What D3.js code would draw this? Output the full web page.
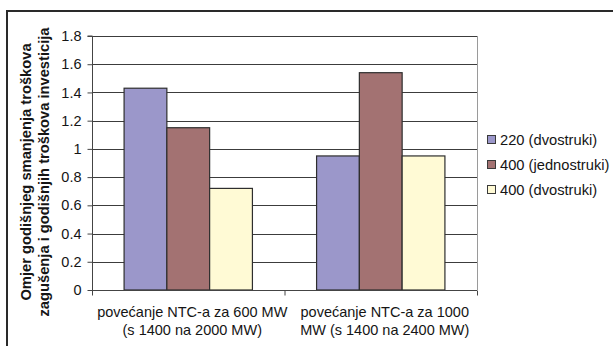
<!DOCTYPE html>
<html>
<head>
<meta charset="utf-8">
<script src="https://cdn.jsdelivr.net/npm/d3@7"></script>
<style>
  html, body { margin: 0; padding: 0; background: #fff; }
  svg { display: block; font-family: "Liberation Sans", Arial, sans-serif; }
</style>
</head>
<body>
<svg id="chart" width="613" height="346"></svg>
<script>
// Ratio of annual congestion-cost reduction to annual investment cost
const categories = [
  ["povećanje NTC-a za 600 MW", "(s 1400 na 2000 MW)"],
  ["povećanje NTC-a za 1000", "MW (s 1400 na 2400 MW)"]
];
const seriesNames = ["220 (dvostruki)", "400 (jednostruki)", "400 (dvostruki)"];
const series220Double = [1.43, 0.95];
const series400Single = [1.15, 1.54];
const series400Double = [0.72, 0.95];
const seriesColors = ["#9b97ca", "#a37272", "#fffad5"];
const yTicks = [0, 0.2, 0.4, 0.6, 0.8, 1, 1.2, 1.4, 1.6, 1.8];
const yTitle = ["Omjer godišnjeg smanjenja troškova", "zagušenja i godišnjih troškova investicija"];

const allSeries = [series220Double, series400Single, series400Double];

const svg = d3.select("#chart");
const plot = { left: 92, right: 477, top: 36, bottom: 290 };
const textColor = "#151515";

// outer frame (top and left edges)
svg.append("path")
  .attr("d", `M7,346 V11 H613`)
  .attr("fill", "none")
  .attr("stroke", "#2a2a2a")
  .attr("stroke-width", 2);

const y = d3.scaleLinear().domain([0, 1.8]).range([plot.bottom, plot.top]);
const x0 = d3.scaleBand().domain(d3.range(categories.length))
  .range([plot.left, plot.right]).paddingInner(0).paddingOuter(0);
// gap width 150%: each band holds 3 bars plus 1.5 bar widths of gap
const barW = x0.bandwidth() / 4.5;

// gridlines
svg.append("g")
  .selectAll("line")
  .data(yTicks.filter(d => d > 0))
  .join("line")
  .attr("x1", plot.left).attr("x2", plot.right)
  .attr("y1", d => Math.round(y(d)) + 0.5).attr("y2", d => Math.round(y(d)) + 0.5)
  .attr("stroke", "#3c3c3c").attr("stroke-width", 1);

// right edge of plot area
svg.append("line")
  .attr("x1", plot.right + 0.5).attr("x2", plot.right + 0.5)
  .attr("y1", plot.top).attr("y2", plot.bottom)
  .attr("stroke", "#9a9a9a");

// bars
const groups = svg.append("g").selectAll("g")
  .data(categories.map((c, i) => i))
  .join("g");

groups.selectAll("rect")
  .data(i => allSeries.map((s, k) => ({ i, k, v: s[i] })))
  .join("rect")
  .attr("x", d => x0(d.i) + barW * 0.75 + d.k * barW)
  .attr("width", barW)
  .attr("y", d => y(d.v))
  .attr("height", d => y(0) - y(d.v))
  .attr("fill", d => seriesColors[d.k])
  .attr("stroke", "#2e2e2e")
  .attr("stroke-width", 1.2);

// y axis
const yAxis = d3.axisLeft(y).tickValues(yTicks).tickSize(5).tickPadding(6)
  .tickFormat(d => d3.format("")(+d.toFixed(1)));
const gy = svg.append("g").attr("transform", `translate(${plot.left + 0.5},0)`).call(yAxis);
gy.select(".domain").attr("stroke", "#444").attr("d", `M-5,${plot.top}H0V${plot.bottom}`);
gy.selectAll(".tick line").attr("stroke", "#444");
gy.selectAll(".tick text").attr("font-size", 14.5).attr("fill", textColor)
  .attr("font-family", "'Liberation Sans', Arial, sans-serif");

// x axis
const xAxis = d3.axisBottom(d3.scaleLinear().domain([0, categories.length]).range([plot.left, plot.right]))
  .tickValues(d3.range(categories.length + 1)).tickSize(5).tickFormat("");
const gx = svg.append("g").attr("transform", `translate(0,${plot.bottom + 0.5})`).call(xAxis);
gx.select(".domain").attr("stroke", "#444").attr("d", `M${plot.left},0H${plot.right}`);
gx.selectAll(".tick line").attr("stroke", "#444");

// category labels
const catLabels = svg.append("g").selectAll("text")
  .data(categories.map((c, i) => ({ c, i })))
  .join("text")
  .attr("text-anchor", "middle")
  .attr("font-size", 14.5)
  .attr("fill", textColor)
  .attr("transform", d => `translate(${x0(d.i) + x0.bandwidth() / 2 + 4},0)`);
catLabels.selectAll("tspan")
  .data(d => d.c)
  .join("tspan")
  .attr("x", 0)
  .attr("y", (d, j) => 317 + j * 18)
  .text(d => d);

// y title
const yt = svg.append("text")
  .attr("transform", `translate(31,172) rotate(-90)`)
  .attr("text-anchor", "middle")
  .attr("font-weight", "bold")
  .attr("font-size", 14.7)
  .attr("fill", textColor);
yt.selectAll("tspan").data(yTitle).join("tspan")
  .attr("x", 0).attr("y", (d, j) => j * 18)
  .text(d => d);

// legend
const leg = svg.append("g").selectAll("g")
  .data(seriesNames.map((n, k) => ({ n, k })))
  .join("g")
  .attr("transform", d => `translate(487,${139 + d.k * 25})`);
leg.append("rect")
  .attr("x", 0.5).attr("y", -3.5).attr("width", 8).attr("height", 8)
  .attr("fill", d => seriesColors[d.k])
  .attr("stroke", "#3a3a3a").attr("stroke-width", 1);
leg.append("text")
  .attr("x", 13).attr("y", 5.5)
  .attr("font-size", 14.7)
  .attr("fill", textColor)
  .text(d => d.n);
</script>
</body>
</html>
